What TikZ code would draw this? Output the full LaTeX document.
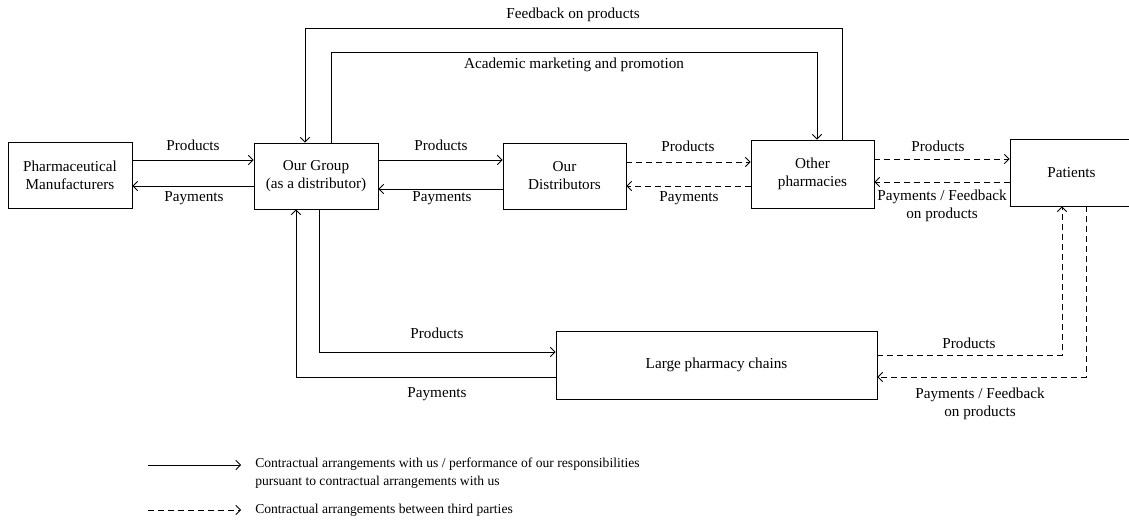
\documentclass[tikz,border=0pt]{standalone}
\usepackage{fontspec}
\setmainfont{Liberation Serif}
\usetikzlibrary{arrows.meta}
\newcommand\dgmfont{\fontsize{11.4}{13.5}\selectfont}
\newcommand\legfont{\fontsize{10.2}{13.5}\selectfont}
\begin{document}
\begin{tikzpicture}[x=0.75pt,y=-0.75pt,
  box/.style={draw, line width=0.6pt, inner sep=0pt, align=center, font=\dgmfont},
  lbl/.style={inner sep=0pt, align=center, font=\dgmfont},
  leg/.style={inner sep=0pt, align=left, font=\legfont, anchor=west},
  flow/.style={line width=0.6pt, -{Straight Barb[length=3.5pt,width=7pt]}},
  tp/.style={flow, dash pattern=on 4.5pt off 3pt},
]
\useasboundingbox (0,0) rectangle (1129,524);

% boxes
\node[box, minimum width=93pt, minimum height=49.5pt] (pm) at (70,175) {Pharmaceutical\\Manufacturers};
\node[box, minimum width=93pt, minimum height=49.5pt] (og) at (316,176) {Our Group\\(as a distributor)};
\node[box, minimum width=92.25pt, minimum height=49.5pt] (od) at (564.5,176) {Our\\Distributors};
\node[box, minimum width=92.25pt, minimum height=51pt] (op) at (812.5,174) {Other\\pharmacies};
\node[box, minimum width=92.25pt, minimum height=50.25pt] (pat) at (1071.5,172.5) {Patients};
\node[box, minimum width=240.75pt, minimum height=51pt] (lpc) at (716.5,365) {Large pharmacy chains};

% horizontal flows
\draw[flow] (pm.east |- 0,160) -- (og.west |- 0,160);
\draw[flow] (og.west |- 0,186) -- (pm.east |- 0,186);
\draw[flow] (og.east |- 0,160) -- (od.west |- 0,160);
\draw[flow] (od.west |- 0,189) -- (og.east |- 0,189);
\draw[tp] (od.east |- 0,162) -- (op.west |- 0,162);
\draw[tp] (op.west |- 0,186) -- (od.east |- 0,186);
\draw[tp] (op.east |- 0,159) -- (pat.west |- 0,159);
\draw[tp] (pat.west |- 0,182) -- (op.east |- 0,182);

% top loops
\draw[flow] (op.north -| 842,0) -- (842,28) -- (305,28) -- (og.north -| 305,0);
\draw[flow] (og.north -| 331,0) -- (331,52) -- (817,52) -- (op.north -| 817,0);

% lower routes
\draw[flow] (og.south -| 319,0) -- (319,352) -- (lpc.west |- 0,352);
\draw[flow] (lpc.west |- 0,377) -- (296,377) -- (og.south -| 296,0);
\draw[tp] (lpc.east |- 0,355) -- (1062,355) -- (pat.south -| 1062,0);
\draw[tp] (pat.south -| 1086,0) -- (1086,377) -- (lpc.east |- 0,377);

% labels
\node[lbl] (l1) at (193,145) {Products};
\node[lbl] (l2) at (194,198) {Payments};
\node[lbl] (l3) at (441,145) {Products};
\node[lbl] (l4) at (442,198) {Payments};
\node[lbl] (l5) at (688,146) {Products};
\node[lbl] (l6) at (689,198) {Payments};
\node[lbl] (l7) at (938,146) {Products};
\node[lbl] (l8) at (942,206) {Payments / Feedback\\on products};
\node[lbl] (l9) at (573,15) {Feedback on products};
\node[lbl] (l10) at (574,65) {Academic marketing and promotion};
\node[lbl] (l11) at (437,333) {Products};
\node[lbl] (l12) at (437,394) {Payments};
\node[lbl] (l13) at (969,343) {Products};
\node[lbl] (l14) at (980,404) {Payments / Feedback\\on products};

% legend
\coordinate (s1) at (148,465);
\coordinate (e1) at (241,465);
\coordinate (s2) at (148,510);
\coordinate (e2) at (241,510);
\draw[flow] (s1) -- (e1);
\draw[tp] (s2) -- (e2);
\node[leg] (t1) at (255,473) {Contractual arrangements with us / performance of our responsibilities\\pursuant to contractual arrangements with us};
\node[leg] (t2) at (255,510) {Contractual arrangements between third parties};
\end{tikzpicture}
\end{document}
